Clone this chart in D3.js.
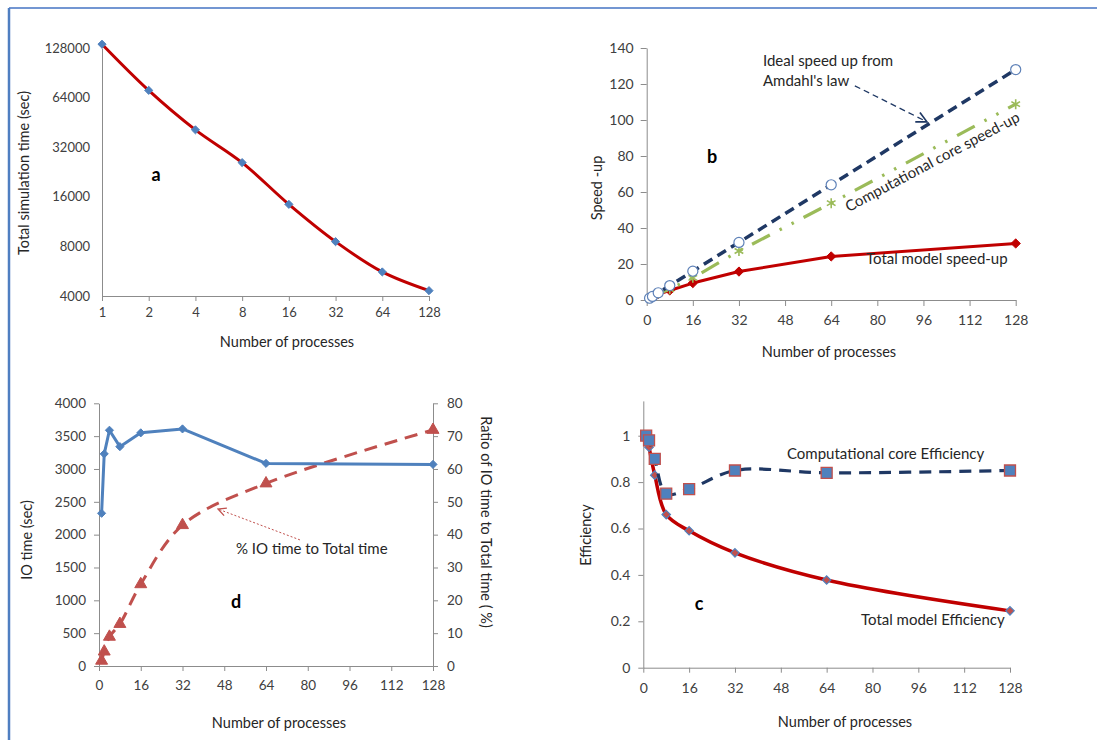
<!DOCTYPE html>
<html>
<head>
<meta charset="UTF-8">
<title>Parallel performance</title>
<style>
  body { margin: 0; background: #fff; }
  svg { display: block; font-family: Lato, "Open Sans", sans-serif; }
  .axis path, .axis line { stroke: #8c8c8c; }
  .axis text { font-family: Lato, "Open Sans", sans-serif; font-size: 13px; fill: #404040; }
  .title { font-size: 14.5px; fill: #262626; }
  .note { font-size: 15px; fill: #262626; }
  .letter { font-size: 18px; font-weight: bold; fill: #000; }
</style>
</head>
<body>
<svg width="1097" height="740"></svg>
<script src="https://d3js.org/d3.v7.min.js"></script>
<script>
// values
const procs = [1, 2, 4, 8, 16, 32, 64, 128];
const totalTime = [135000, 70800, 40800, 25800, 14400, 8550, 5600, 4310];
const idealSpeedup = [1, 2, 4, 8, 16, 32, 64, 128];
const coreSpeedup = [1, 1.96, 3.6, 6, 12.3, 27.2, 53.8, 108.8];
const totalSpeedup = [1, 1.9, 3.3, 5.3, 9.4, 15.8, 24.2, 31.4];
const ioTime = [2325, 3230, 3590, 3340, 3550, 3610, 3085, 3070];
const ioRatio = [1.6, 4.4, 8.9, 12.8, 24.9, 42.9, 55.6, 71.9];
const coreEff = [1, 0.98, 0.9, 0.75, 0.77, 0.85, 0.84, 0.85];
const totalEff = [1, 0.95, 0.83, 0.66, 0.59, 0.495, 0.378, 0.245];

const timeTicks = [4000, 8000, 16000, 32000, 64000, 128000];
const procTicks = [0, 16, 32, 48, 64, 80, 96, 112, 128];
const speedTicks = [0, 20, 40, 60, 80, 100, 120, 140];
const ioTicks = [0, 500, 1000, 1500, 2000, 2500, 3000, 3500, 4000];
const ratioTicks = [0, 10, 20, 30, 40, 50, 60, 70, 80];
const effTicks = [0, 0.2, 0.4, 0.6, 0.8, 1];

const svg = d3.select("svg");

// page frame
svg.append("line").attr("x1", 9).attr("x2", 1097).attr("y1", 8).attr("y2", 8)
    .attr("stroke", "#7396d2").attr("stroke-width", 2);
svg.append("line").attr("x1", 9).attr("x2", 9).attr("y1", 8).attr("y2", 740)
    .attr("stroke", "#4f7ec1").attr("stroke-width", 2.5);

// arrow heads
const defs = svg.append("defs");
function arrowHead(id, color, size) {
    defs.append("marker").attr("id", id)
        .attr("viewBox", "0 0 10 10").attr("refX", 9).attr("refY", 5)
        .attr("markerWidth", size).attr("markerHeight", size)
        .attr("markerUnits", "userSpaceOnUse").attr("orient", "auto")
        .append("path").attr("d", "M1,1 L9,5 L1,9")
        .attr("fill", "none").attr("stroke", color).attr("stroke-width", 1.3);
}
arrowHead("arrNavy", "#1f3864", 13);
arrowHead("arrRed", "#c0504d", 10);

function styleAxis(g, size) {
    g.attr("class", "axis");
    g.selectAll("text").attr("font-size", null).attr("font-family", null);
    if (size) g.selectAll("text").style("font-size", size + "px");
}

function rotTitle(x, y, text, angle) {
    svg.append("text").attr("class", "title")
        .attr("transform", "translate(" + x + "," + y + ") rotate(" + angle + ")")
        .attr("text-anchor", "middle").attr("dominant-baseline", "middle")
        .text(text);
}

function addText(x, y, text, cls, anchor) {
    svg.append("text").attr("class", cls)
        .attr("x", x).attr("y", y)
        .attr("text-anchor", anchor || "start").attr("dominant-baseline", "middle")
        .text(text);
}

function points(g, xs, ys, sx, sy, shape, size, fill, stroke, sw) {
    g.selectAll(null).data(xs).enter().append("path")
        .attr("transform", (d, i) => "translate(" + sx(d) + "," + sy(ys[i]) + ")")
        .attr("d", d3.symbol(shape, size))
        .attr("fill", fill).attr("stroke", stroke).attr("stroke-width", sw);
}

function line(g, xs, ys, sx, sy, color, width, dash, curve) {
    let gen = d3.line().x(d => sx(d)).y((d, i) => sy(ys[i]));
    if (curve) gen.curve(curve);
    g.append("path").datum(xs).attr("d", gen)
        .attr("fill", "none").attr("stroke", color).attr("stroke-width", width)
        .attr("stroke-dasharray", dash || null)
        .attr("stroke-linejoin", "round");
}

// ---------- panel a ----------
{
    let x = d3.scaleLog().base(2).domain([1, 128]).range([102, 429]);
    let y = d3.scaleLog().base(2).domain([4000, 128000]).range([296, 48]);
    let g = svg.append("g");
    g.append("g").attr("transform", "translate(0,296)")
        .call(d3.axisBottom(x).tickValues(procs).tickFormat(d3.format("d"))
            .tickSize(5).tickPadding(7).tickSizeOuter(0))
        .call(a => styleAxis(a, 13));
    g.append("g").attr("transform", "translate(102,0)")
        .call(d3.axisLeft(y).tickValues(timeTicks).tickFormat(d3.format("d"))
            .tickSize(0).tickPadding(12))
        .call(a => styleAxis(a, 13));
    line(g, procs, totalTime, x, y, "#c00000", 3, null, d3.curveCatmullRom.alpha(0.5));
    points(g, procs, totalTime, x, y, d3.symbolDiamond2, 42, "#4f81bd", "#4f81bd", 1);
    rotTitle(25, 173, "Total simulation time (sec)", -90);
    addText(287, 343, "Number of processes", "title", "middle");
    addText(156, 176, "a", "letter", "middle");
}

// ---------- panel b ----------
{
    let x = d3.scaleLinear().domain([0, 128]).range([646.7, 1015.7]);
    let y = d3.scaleLinear().domain([0, 140]).range([300, 48]);
    let g = svg.append("g");
    g.append("g").attr("transform", "translate(0,300)")
        .call(d3.axisBottom(x).tickValues(procTicks).tickSize(6).tickPadding(9).tickSizeOuter(0))
        .call(a => styleAxis(a, 14));
    g.append("g").attr("transform", "translate(646.7,0)")
        .call(d3.axisLeft(y).tickValues(speedTicks).tickSize(6).tickPadding(7).tickSizeOuter(0))
        .call(a => styleAxis(a, 14));

    line(g, procs, totalSpeedup, x, y, "#c00000", 3);
    points(g, procs, totalSpeedup, x, y, d3.symbolDiamond2, 55, "#c00000", "#c00000", 1);
    line(g, procs, coreSpeedup, x, y, "#9bbb59", 3.2, "20,11,2.5,11,2.5,11");
    points(g, procs, coreSpeedup, x, y, d3.symbolAsterisk, 70, "none", "#9bbb59", 1.6);
    line(g, procs, idealSpeedup, x, y, "#1f3864", 3.5, "10,6");
    points(g, procs, idealSpeedup, x, y, d3.symbolCircle, 80, "#fff", "#5f82b8", 1.2);

    // annotation arrow
    g.append("line")
        .attr("x1", x(72.2)).attr("y1", y(119))
        .attr("x2", x(97.2)).attr("y2", y(99))
        .attr("stroke", "#1f3864").attr("stroke-width", 1.3)
        .attr("stroke-dasharray", "6,4").attr("marker-end", "url(#arrNavy)");

    rotTitle(598, 188, "Speed -up", -90);
    addText(829, 353, "Number of processes", "title", "middle");
    addText(712, 158, "b", "letter", "middle");
    addText(763, 62, "Ideal speed up from", "note");
    addText(763, 82, "Amdahl's law", "note");
    addText(866, 260, "Total model speed-up", "note");
    svg.append("text").attr("class", "note")
        .attr("transform", "translate(933,163) rotate(-28)")
        .attr("text-anchor", "middle").attr("dominant-baseline", "middle")
        .text("Computational core speed-up");
}

// ---------- panel d ----------
{
    let x = d3.scaleLinear().domain([0, 128]).range([99, 433]);
    let yL = d3.scaleLinear().domain([0, 4000]).range([666, 403.3]);
    let yR = d3.scaleLinear().domain([0, 80]).range([666, 403.3]);
    let g = svg.append("g");
    g.append("g").attr("transform", "translate(0,666)")
        .call(d3.axisBottom(x).tickValues(procTicks).tickSize(5).tickPadding(9).tickSizeOuter(0))
        .call(a => styleAxis(a, 13.5));
    g.append("g").attr("transform", "translate(99,0)")
        .call(d3.axisLeft(yL).tickValues(ioTicks).tickFormat(d3.format("d"))
            .tickSize(5).tickPadding(8).tickSizeOuter(0))
        .call(a => styleAxis(a, 13.5));
    g.append("g").attr("transform", "translate(433,0)")
        .call(d3.axisRight(yR).tickValues(ratioTicks).tickSize(5).tickPadding(9).tickSizeOuter(0))
        .call(a => styleAxis(a, 13.5));

    line(g, procs, ioRatio, x, yR, "#c0504d", 3, "13,8", d3.curveCatmullRom.alpha(0.5));
    points(g, procs, ioRatio, x, yR, d3.symbolTriangle, 62, "#c0504d", "#c0504d", 1);
    line(g, procs, ioTime, x, yL, "#4f81bd", 3);
    points(g, procs, ioTime, x, yL, d3.symbolDiamond2, 42, "#4f81bd", "#4f81bd", 1);

    g.append("line")
        .attr("x1", x(77)).attr("y1", yR(38.4))
        .attr("x2", x(45.6)).attr("y2", yR(47.8))
        .attr("stroke", "#c0504d").attr("stroke-width", 1)
        .attr("stroke-dasharray", "2,2").attr("marker-end", "url(#arrRed)");

    rotTitle(28, 540, "IO time (sec)", -90);
    rotTitle(485, 522, "Ratio of IO time to Total time  ( %)", 90);
    addText(279, 724, "Number of processes", "title", "middle");
    addText(236, 603, "d", "letter", "middle");
    addText(236, 550, "% IO time to Total time", "note");
}

// ---------- panel c ----------
{
    let x = d3.scaleLinear().domain([0, 128]).range([643.3, 1010]);
    let y = d3.scaleLinear().domain([0, 1.15]).range([667.7, 400.9]);
    let g = svg.append("g");
    g.append("g").attr("transform", "translate(0,667.7)")
        .call(d3.axisBottom(x).tickValues(procTicks).tickSize(5).tickPadding(10).tickSizeOuter(0))
        .call(a => styleAxis(a, 14));
    g.append("g").attr("transform", "translate(643.3,0)")
        .call(d3.axisLeft(y).tickValues(effTicks).tickFormat(d3.format("")).tickSize(5).tickPadding(8).tickSizeOuter(0))
        .call(a => styleAxis(a, 14));

    line(g, procs, totalEff, x, y, "#c00000", 3.5, null, d3.curveCatmullRom.alpha(0.5));
    points(g, procs, totalEff, x, y, d3.symbolDiamond2, 45, "#c0504d", "#4f81bd", 1.2);
    line(g, procs, coreEff, x, y, "#1f3864", 3.2, "12,8", d3.curveCatmullRom.alpha(0.5));
    points(g, procs, coreEff, x, y, d3.symbolSquare, 121, "#4f81bd", "#c0504d", 1.3);

    rotTitle(587, 535, "Efficiency", -90);
    addText(845, 723, "Number of processes", "title", "middle");
    addText(699, 605, "c", "letter", "middle");
    addText(787, 455, "Computational core Efficiency", "note");
    addText(861, 621, "Total model  Efficiency", "note");
}
</script>
</body>
</html>
